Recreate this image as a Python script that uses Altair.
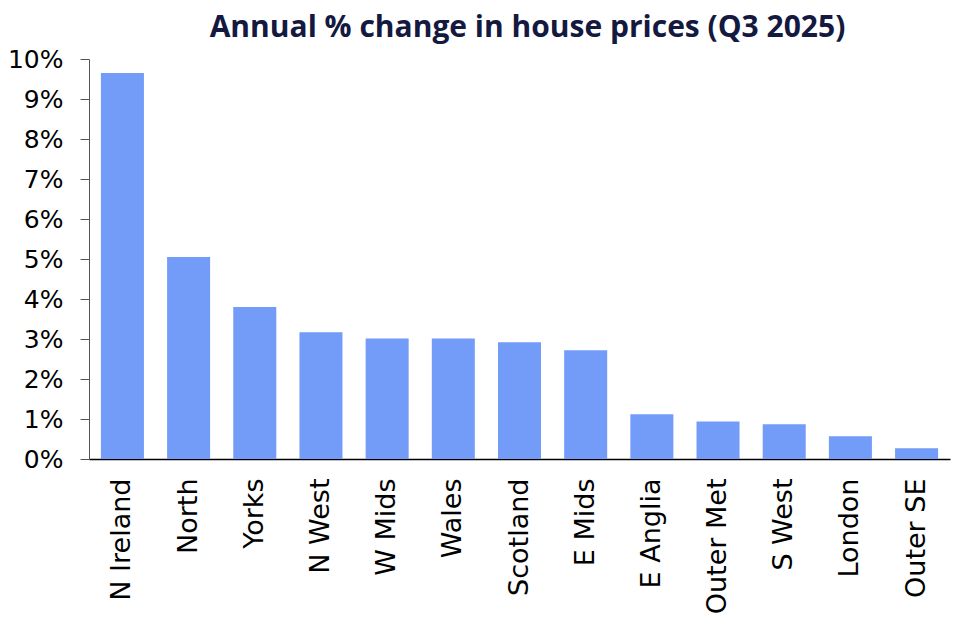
import altair as alt
import pandas as pd

regions = ["N Ireland", "North", "Yorks", "N West", "W Mids", "Wales", "Scotland",
           "E Mids", "E Anglia", "Outer Met", "S West", "London", "Outer SE"]
changes = [9.65, 5.05, 3.8, 3.17, 3.01, 3.01, 2.92, 2.72, 1.12, 0.94, 0.87, 0.57, 0.27]
y_ticks = [0, 1, 2, 3, 4, 5, 6, 7, 8, 9, 10]
title_text = "Annual % change in house prices (Q3 2025)"

df = pd.DataFrame({"region": regions, "change": changes})

LABEL_FONT = "DejaVu Sans"
TITLE_FONT = "Open Sans"

chart = alt.Chart(df).mark_bar(color="#739bf8").encode(
    x=alt.X("region:N", sort=regions,
            scale=alt.Scale(paddingInner=0.35, paddingOuter=0.18),
            axis=alt.Axis(title=None, labelAngle=-90, ticks=False, domainColor="#000000",
                          domainWidth=1.5, labelFont=LABEL_FONT, labelFontSize=27,
                          labelColor="#000000", labelPadding=19, labelAlign="right",
                          labelBaseline="middle")),
    y=alt.Y("change:Q", scale=alt.Scale(domain=[0, 10], nice=False),
            axis=alt.Axis(title=None, values=y_ticks, labelExpr="datum.value + '%'",
                          grid=False, tickSize=9, tickColor="#555555", domainColor="#555555",
                          labelFont=LABEL_FONT, labelFontSize=25, labelColor="#000000",
                          labelPadding=17)),
).properties(
    width=861,
    height=400,
    title=alt.TitleParams(title_text, font=TITLE_FONT, fontSize=30, fontWeight="bold",
                          color="#14193f", anchor="middle", dx=8, offset=4),
    autosize=alt.AutoSizeParams(type="none"),
    padding={"left": 81, "top": 51, "right": 4, "bottom": 161},
).configure_view(stroke=None)

chart.save("out.html", embed_options={"renderer": "svg", "actions": False})
